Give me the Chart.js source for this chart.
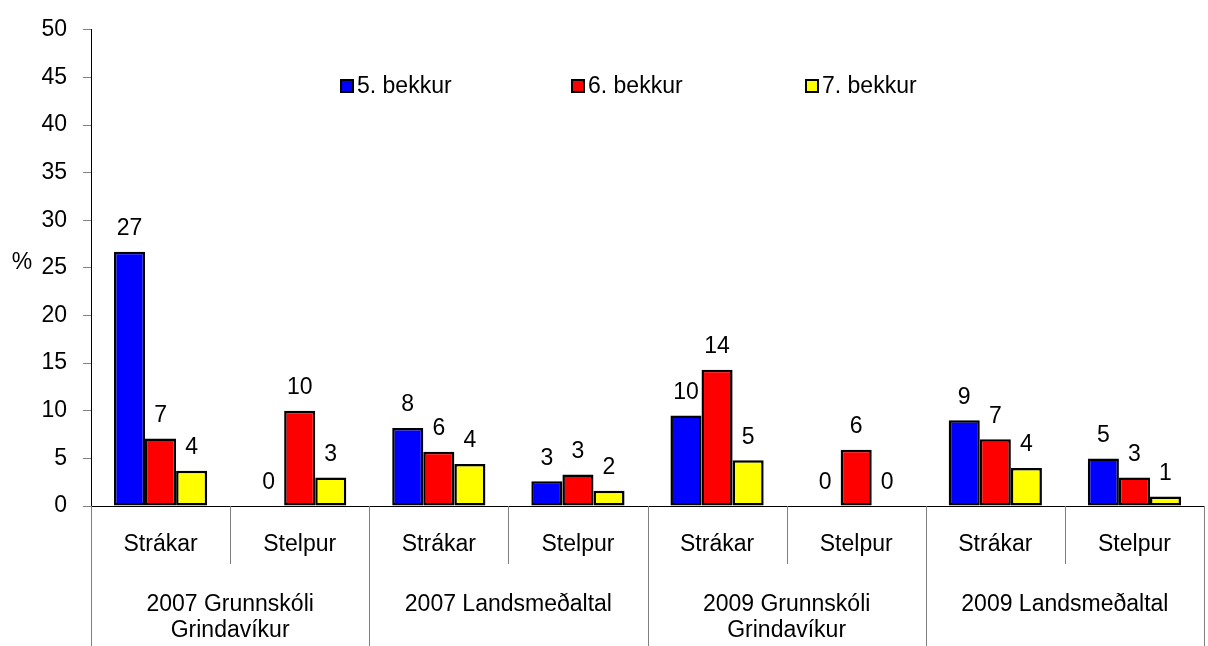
<!DOCTYPE html>
<html>
<head>
<meta charset="utf-8">
<script src="https://cdn.jsdelivr.net/npm/chart.js@4"></script>
<style>
  html, body { margin: 0; padding: 0; background: #fff; }
  #wrap { width: 1208px; height: 646px; }
</style>
</head>
<body>
<div id="wrap"><canvas id="myChart" width="1208" height="646"></canvas></div>
<script>
"use strict";

const categories = ["Strákar", "Stelpur", "Strákar", "Stelpur", "Strákar", "Stelpur", "Strákar", "Stelpur"];
const groups = [["2007 Grunnskóli", "Grindavíkur"], ["2007 Landsmeðaltal"], ["2009 Grunnskóli", "Grindavíkur"], ["2009 Landsmeðaltal"]];
const seriesNames = ["5. bekkur", "6. bekkur", "7. bekkur"];
const bekkur5 = [26.7, 0, 8.2, 2.6, 9.5, 0, 9.0, 5.0];
const bekkur6 = [7.1, 10.0, 5.7, 3.3, 14.3, 5.9, 7.0, 3.0];
const bekkur7 = [3.7, 3.0, 4.4, 1.6, 4.8, 0, 4.0, 1.0];
const yTicks = [0, 5, 10, 15, 20, 25, 30, 35, 40, 45, 50];

const FONT = "'Liberation Sans', Arial, sans-serif";
const SIZE = 23;

// draws value labels, legend, % title, group labels and separators
const extras = {
    id: "extras",
    afterDraw(chart) {
        const ctx = chart.ctx;
        const area = chart.chartArea;
        const x = chart.scales.x;
        ctx.save();
        ctx.font = SIZE + "px " + FONT;
        ctx.fillStyle = "#000";
        ctx.textAlign = "center";
        ctx.textBaseline = "middle";

        chart.data.datasets.forEach(function (ds, di) {
            chart.getDatasetMeta(di).data.forEach(function (bar, i) {
                ctx.fillText(String(Math.round(ds.data[i])), bar.x, bar.y - 23);
            });
        });

        // % title
        ctx.fillText("%", 22, 263);

        // legend
        const legendX = [341, 572, 806];
        ctx.textAlign = "left";
        chart.data.datasets.forEach(function (ds, di) {
            ctx.fillStyle = ds.backgroundColor;
            ctx.fillRect(legendX[di], 80, 12, 12);
            ctx.strokeStyle = "#000";
            ctx.lineWidth = 2;
            ctx.strokeRect(legendX[di], 80, 12, 12);
            ctx.fillStyle = "#000";
            ctx.fillText(ds.label, legendX[di] + 16, 87);
        });

        // separators under the axis
        const half = (x.getPixelForValue(1) - x.getPixelForValue(0)) / 2;
        ctx.strokeStyle = "#808080";
        ctx.lineWidth = 1;
        for (let i = 0; i <= categories.length; i++) {
            const px = Math.round(x.getPixelForValue(Math.min(i, categories.length - 1)) + (i === categories.length ? half : -half)) + 0.5;
            ctx.beginPath();
            ctx.moveTo(px, area.bottom);
            ctx.lineTo(px, i % 2 === 0 ? chart.height : area.bottom + 58);
            ctx.stroke();
        }

        // group labels
        ctx.fillStyle = "#000";
        ctx.textAlign = "center";
        groups.forEach(function (lines, g) {
            const cx = (x.getPixelForValue(g * 2) + x.getPixelForValue(g * 2 + 1)) / 2;
            lines.forEach(function (line, li) {
                ctx.fillText(line, cx, 605 + li * 26);
            });
        });
        ctx.restore();
    }
};

const ctx = document.getElementById("myChart");
const chart = new Chart(ctx, {
    type: "bar",
    data: {
        labels: categories,
        datasets: [
            { label: seriesNames[0], data: bekkur5, backgroundColor: "#0000FF" },
            { label: seriesNames[1], data: bekkur6, backgroundColor: "#FF0000" },
            { label: seriesNames[2], data: bekkur7, backgroundColor: "#FFFF00" }
        ].map(function (d) {
            return Object.assign(d, { borderColor: "#000", borderWidth: 2.5, borderSkipped: false, barPercentage: 1, categoryPercentage: 0.67 });
        })
    },
    options: {
        responsive: false,
        animation: false,
        events: [],
        layout: { padding: { top: 18, right: 4, left: 0, bottom: 0 } },
        plugins: { legend: { display: false }, tooltip: { enabled: false } },
        scales: {
            x: {
                grid: { display: false },
                border: { color: "#000", width: 1 },
                ticks: { color: "#000", font: { family: FONT, size: SIZE }, padding: 17, maxRotation: 0 },
                afterFit: function (scale) { scale.height = 140; }
            },
            y: {
                min: 0,
                max: 50,
                afterBuildTicks: function (scale) {
                    scale.ticks = yTicks.map(function (v) { return { value: v }; });
                },
                grid: { drawOnChartArea: false, drawTicks: true, tickLength: 8, color: "#808080" },
                border: { color: "#000", width: 1 },
                ticks: { color: "#000", font: { family: FONT, size: SIZE }, padding: 16 },
                afterFit: function (scale) { scale.width = 91; }
            }
        }
    },
    plugins: [extras]
});
</script>
</body>
</html>
